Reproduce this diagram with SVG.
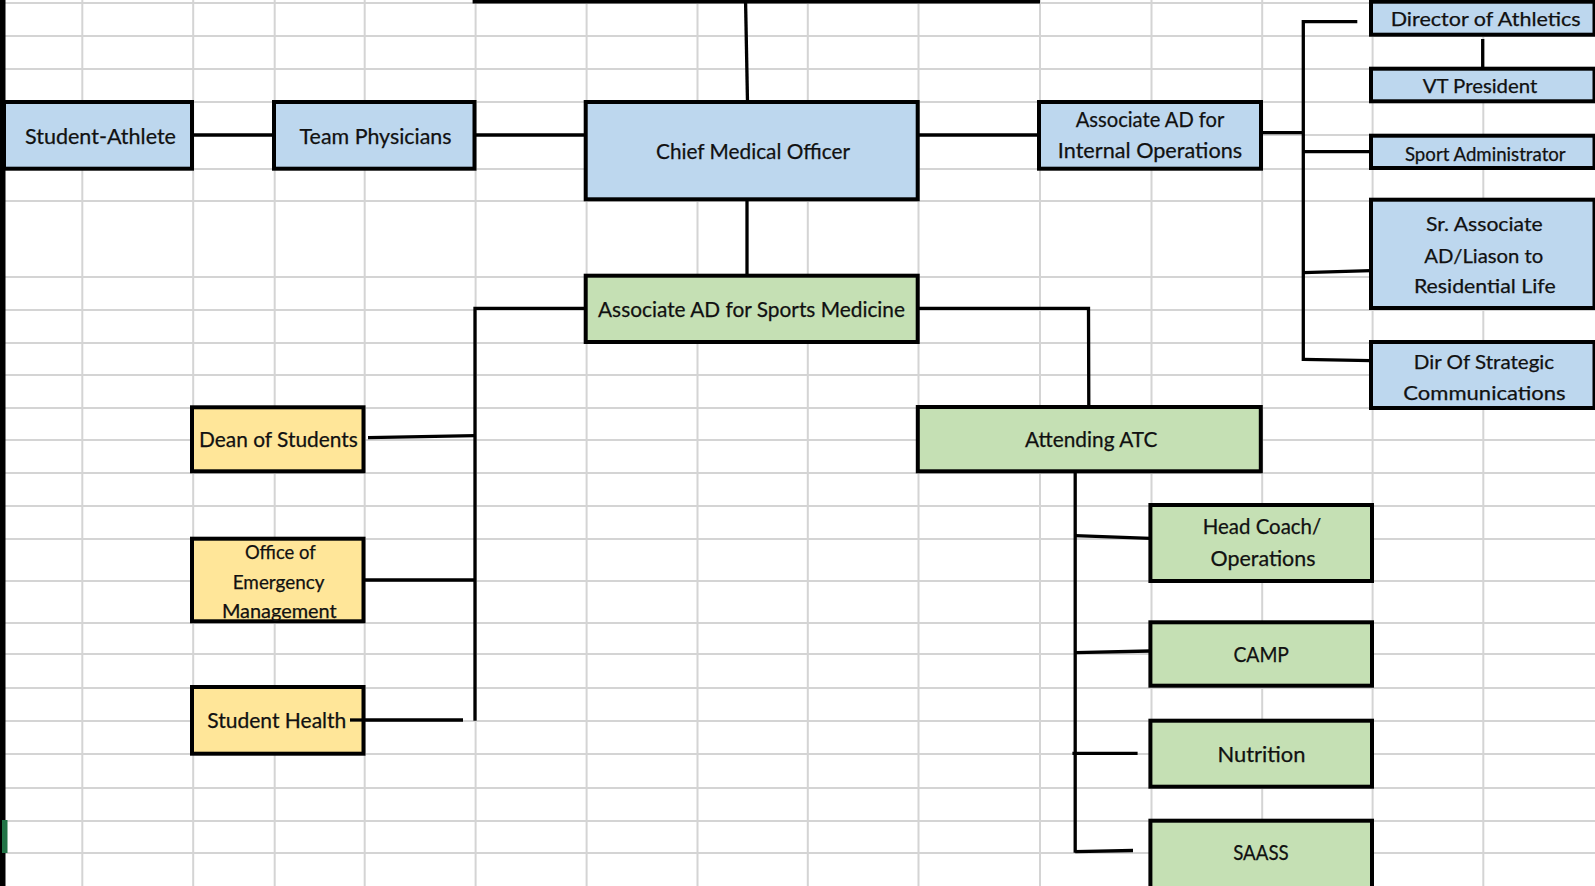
<svg xmlns="http://www.w3.org/2000/svg" width="1595" height="886" viewBox="0 0 1595 886">
<style>
.grid line{stroke:#d4d4d4;stroke-width:2}
.box{stroke:#000;stroke-width:4}
.blue{fill:#bdd7ee}
.green{fill:#c5e0b4}
.yellow{fill:#ffe699}
.conn{stroke:#000;stroke-width:3.3;fill:none;stroke-linecap:butt}
text{font-family:Lato,"Open Sans","Liberation Sans",sans-serif;fill:#111;text-anchor:middle;stroke:#111;stroke-width:0.25}
.f22{font-size:22px}.f21{font-size:21px}.f20{font-size:20px}.f19{font-size:19px}
</style>
<rect width="1595" height="886" fill="#fff"/>
<g class="grid" id="grid">
<line x1="82.3" y1="0" x2="82.3" y2="886"/><line x1="193.2" y1="0" x2="193.2" y2="886"/><line x1="274.7" y1="0" x2="274.7" y2="886"/><line x1="364.7" y1="0" x2="364.7" y2="886"/><line x1="475.6" y1="0" x2="475.6" y2="886"/><line x1="586.6" y1="0" x2="586.6" y2="886"/><line x1="697.5" y1="0" x2="697.5" y2="886"/><line x1="807.8" y1="0" x2="807.8" y2="886"/><line x1="918.5" y1="0" x2="918.5" y2="886"/><line x1="1040" y1="0" x2="1040" y2="886"/><line x1="1151.5" y1="0" x2="1151.5" y2="886"/><line x1="1262.2" y1="0" x2="1262.2" y2="886"/><line x1="1372.6" y1="0" x2="1372.6" y2="886"/><line x1="1483.3" y1="0" x2="1483.3" y2="886"/>
<line x1="0" y1="3" x2="1595" y2="3"/><line x1="0" y1="36" x2="1595" y2="36"/><line x1="0" y1="69" x2="1595" y2="69"/><line x1="0" y1="102" x2="1595" y2="102"/><line x1="0" y1="135" x2="1595" y2="135"/><line x1="0" y1="169" x2="1595" y2="169"/><line x1="0" y1="201" x2="1595" y2="201"/><line x1="0" y1="277" x2="1595" y2="277"/><line x1="0" y1="310" x2="1595" y2="310"/><line x1="0" y1="343" x2="1595" y2="343"/><line x1="0" y1="375" x2="1595" y2="375"/><line x1="0" y1="408" x2="1595" y2="408"/><line x1="0" y1="440" x2="1595" y2="440"/><line x1="0" y1="473" x2="1595" y2="473"/><line x1="0" y1="506" x2="1595" y2="506"/><line x1="0" y1="539" x2="1595" y2="539"/><line x1="0" y1="581" x2="1595" y2="581"/><line x1="0" y1="623" x2="1595" y2="623"/><line x1="0" y1="654" x2="1595" y2="654"/><line x1="0" y1="688" x2="1595" y2="688"/><line x1="0" y1="721" x2="1595" y2="721"/><line x1="0" y1="754" x2="1595" y2="754"/><line x1="0" y1="788" x2="1595" y2="788"/><line x1="0" y1="821" x2="1595" y2="821"/><line x1="0" y1="853" x2="1595" y2="853"/>
</g>
<rect x="0" y="0" width="5.5" height="886" fill="#000"/>
<rect x="2" y="820" width="5.5" height="33" fill="#217346"/>
<g id="connectors" class="conn">
<line x1="472.6" y1="1.6" x2="1040" y2="1.6" stroke-width="4"/>
<line x1="745.6" y1="3" x2="747.5" y2="102"/>
<line x1="192" y1="135" x2="274" y2="135"/>
<line x1="474.5" y1="135" x2="585.7" y2="135"/>
<line x1="917.8" y1="135" x2="1039" y2="135"/>
<line x1="747" y1="199" x2="747" y2="276"/>
<polyline points="585.7,308.3 475,308.3 475,720.7"/>
<line x1="368" y1="437.7" x2="475" y2="435.7"/>
<line x1="363.5" y1="580" x2="475" y2="580"/>
<line x1="350" y1="720" x2="463" y2="720"/>
<polyline points="917.8,308.3 1088.5,308.3 1088.8,407"/>
<line x1="1075.2" y1="471" x2="1075.2" y2="852.7"/>
<line x1="1075.2" y1="535.7" x2="1150.4" y2="538.3"/>
<line x1="1075.2" y1="652.7" x2="1150.4" y2="651"/>
<line x1="1072.4" y1="753.3" x2="1137.6" y2="753.3"/>
<line x1="1075.2" y1="851.7" x2="1133" y2="850.5"/>
<line x1="1248.3" y1="132.7" x2="1303.3" y2="132.7"/>
<line x1="1303.3" y1="20" x2="1303.3" y2="361"/>
<line x1="1303.3" y1="21.7" x2="1357.3" y2="21.7"/>
<line x1="1482.7" y1="39" x2="1482.7" y2="68.7"/>
<line x1="1303.3" y1="151.7" x2="1371" y2="151.7"/>
<line x1="1303.3" y1="272.7" x2="1371" y2="270.7"/>
<line x1="1303.3" y1="359.3" x2="1371" y2="360.7"/>
</g>
<g id="student-athlete"><rect class="box blue" x="4" y="102" width="188" height="66.7"/><text class="f22" x="100.5" y="144" textLength="151" lengthAdjust="spacingAndGlyphs">Student-Athlete</text></g>
<g id="team-physicians"><rect class="box blue" x="274" y="102" width="200.5" height="66.7"/><text class="f22" x="375.6" y="144" textLength="152" lengthAdjust="spacingAndGlyphs">Team Physicians</text></g>
<g id="chief-medical-officer"><rect class="box blue" x="585.7" y="102" width="332" height="97.3"/><text class="f22" x="753" y="158.5" textLength="194" lengthAdjust="spacingAndGlyphs">Chief Medical Officer</text></g>
<g id="assoc-ad-internal"><rect class="box blue" x="1039" y="102" width="222" height="66.7"/><text class="f21" x="1150" y="126.7" textLength="148.7" lengthAdjust="spacingAndGlyphs">Associate AD for</text><text class="f21" x="1150" y="158.3" textLength="184.3" lengthAdjust="spacingAndGlyphs">Internal Operations</text></g>
<g id="assoc-ad-sports-medicine"><rect class="box green" x="585.7" y="275.7" width="332" height="66.3"/><text class="f21" x="751.5" y="316.7" textLength="307" lengthAdjust="spacingAndGlyphs">Associate AD for Sports Medicine</text></g>
<g id="director-of-athletics"><rect class="box blue" x="1371" y="1.7" width="223.5" height="33"/><text class="f20" x="1485.7" y="26" textLength="190" lengthAdjust="spacingAndGlyphs">Director of Athletics</text></g>
<g id="vt-president"><rect class="box blue" x="1371" y="68.7" width="223.5" height="32.6"/><text class="f20" x="1480" y="93.3" textLength="114.7" lengthAdjust="spacingAndGlyphs">VT President</text></g>
<g id="sport-administrator"><rect class="box blue" x="1371" y="135.7" width="223.5" height="32.3"/><text class="f19" x="1485.3" y="160.7" textLength="160.7" lengthAdjust="spacingAndGlyphs">Sport Administrator</text></g>
<g id="sr-associate-ad"><rect class="box blue" x="1371" y="199.7" width="223.5" height="108.3"/><text class="f20" x="1484.3" y="231" textLength="116.7" lengthAdjust="spacingAndGlyphs">Sr. Associate</text><text class="f20" x="1483.8" y="262.7" textLength="119" lengthAdjust="spacingAndGlyphs">AD/Liason to</text><text class="f20" x="1484.8" y="293.3" textLength="141.7" lengthAdjust="spacingAndGlyphs">Residential Life</text></g>
<g id="dir-strategic-communications"><rect class="box blue" x="1371" y="342" width="223.5" height="66"/><text class="f20" x="1484" y="369.3" textLength="140.3" lengthAdjust="spacingAndGlyphs">Dir Of Strategic</text><text class="f20" x="1484.5" y="400" textLength="162.3" lengthAdjust="spacingAndGlyphs">Communications</text></g>
<g id="dean-of-students"><rect class="box yellow" x="192" y="407.3" width="171.5" height="64"/><text class="f21" x="278.4" y="446.7" textLength="158.8" lengthAdjust="spacingAndGlyphs">Dean of Students</text></g>
<g id="office-emergency-management"><rect class="box yellow" x="192" y="538.7" width="171.5" height="82.6"/><text class="f19" x="280.3" y="559.3" textLength="70.8" lengthAdjust="spacingAndGlyphs">Office of</text><text class="f19" x="278.6" y="589" textLength="91.8" lengthAdjust="spacingAndGlyphs">Emergency</text><text class="f19" x="279.3" y="617.7" textLength="114.8" lengthAdjust="spacingAndGlyphs">Management</text></g>
<g id="student-health"><rect class="box yellow" x="192" y="687" width="171.5" height="66.7"/><text class="f21" x="276.8" y="728.3" textLength="139" lengthAdjust="spacingAndGlyphs">Student Health</text><line class="conn" x1="350" y1="720" x2="363.5" y2="720"/></g>
<g id="attending-atc"><rect class="box green" x="917.8" y="407" width="343" height="64.3"/><text class="f21" x="1091.2" y="446.7" textLength="132.3" lengthAdjust="spacingAndGlyphs">Attending ATC</text></g>
<g id="head-coach-operations"><rect class="box green" x="1150.4" y="505" width="221.6" height="76"/><text class="f21" x="1262" y="534" textLength="118.5" lengthAdjust="spacingAndGlyphs">Head Coach/</text><text class="f21" x="1263" y="565.7" textLength="104.9" lengthAdjust="spacingAndGlyphs">Operations</text></g>
<g id="camp"><rect class="box green" x="1150.4" y="622.3" width="221.6" height="63.4"/><text class="f21" x="1261.2" y="661.7" textLength="55.6" lengthAdjust="spacingAndGlyphs">CAMP</text></g>
<g id="nutrition"><rect class="box green" x="1150.4" y="720.7" width="221.6" height="66"/><text class="f21" x="1261.4" y="761.7" textLength="88" lengthAdjust="spacingAndGlyphs">Nutrition</text></g>
<g id="saass"><rect class="box green" x="1150.4" y="820.7" width="221.6" height="80"/><text class="f21" x="1261" y="860" textLength="55.6" lengthAdjust="spacingAndGlyphs">SAASS</text></g>
</svg>
